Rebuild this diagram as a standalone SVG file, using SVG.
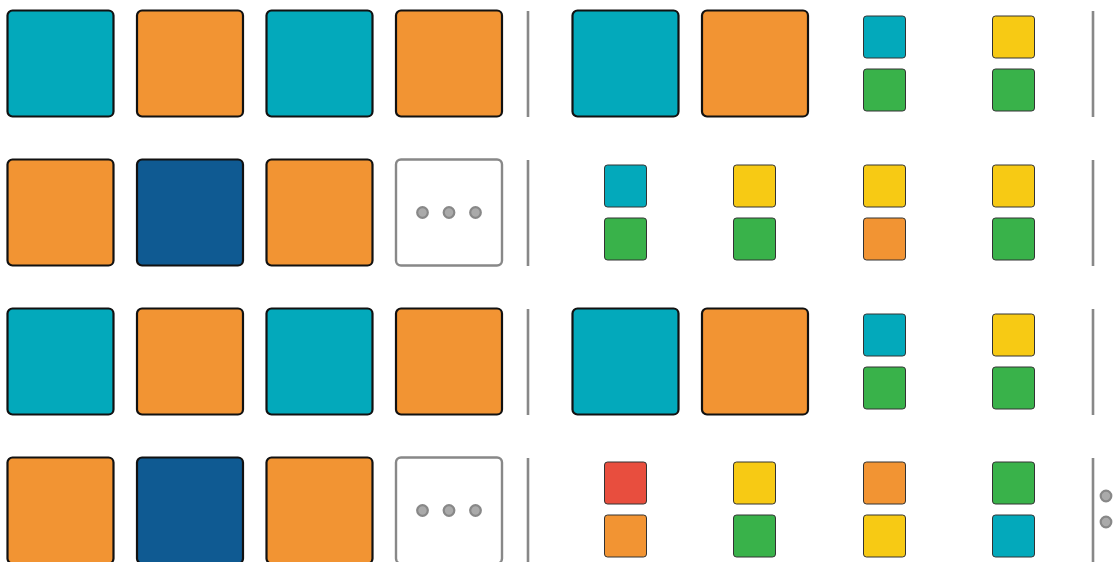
<svg xmlns="http://www.w3.org/2000/svg" width="1116" height="562" viewBox="0 0 1116 562">
<style>
.big{stroke:#111;stroke-width:2.2}
.sm{stroke:#333;stroke-width:1}
.c{fill:#03A9BB}.o{fill:#F29433}.b{fill:#0F5A92}.y{fill:#F7CA14}.g{fill:#39B24A}.r{fill:#E84E3E}
.more{fill:#fff;stroke:#888;stroke-width:2.4}
.dot{fill:#aaa;stroke:#888;stroke-width:2.2}
.div{stroke:#888;stroke-width:2.6}
</style>
<defs>
<rect id="B" width="106" height="106" rx="5"/>
<rect id="S" width="42" height="42" rx="3"/>
<g id="M"><rect class="more" width="106" height="106" rx="5"/><circle class="dot" cx="26.5" cy="53" r="5.3"/><circle class="dot" cx="53" cy="53" r="5.3"/><circle class="dot" cx="79.5" cy="53" r="5.3"/></g>
</defs>
<rect width="1116" height="562" fill="#fff"/>
<g id="row0">
<use href="#B" class="big c" x="7.5" y="10.5"/><use href="#B" class="big o" x="137" y="10.5"/><use href="#B" class="big c" x="266.5" y="10.5"/><use href="#B" class="big o" x="396" y="10.5"/>
<use href="#B" class="big c" x="572.5" y="10.5"/><use href="#B" class="big o" x="702" y="10.5"/>
<use href="#S" class="sm c" x="863.5" y="16"/><use href="#S" class="sm g" x="863.5" y="69"/>
<use href="#S" class="sm y" x="992.5" y="16"/><use href="#S" class="sm g" x="992.5" y="69"/>
</g>
<g id="row1">
<use href="#B" class="big o" x="7.5" y="159.5"/><use href="#B" class="big b" x="137" y="159.5"/><use href="#B" class="big o" x="266.5" y="159.5"/><use href="#M" x="396" y="159.5"/>
<use href="#S" class="sm c" x="604.5" y="165"/><use href="#S" class="sm g" x="604.5" y="218"/>
<use href="#S" class="sm y" x="733.5" y="165"/><use href="#S" class="sm g" x="733.5" y="218"/>
<use href="#S" class="sm y" x="863.5" y="165"/><use href="#S" class="sm o" x="863.5" y="218"/>
<use href="#S" class="sm y" x="992.5" y="165"/><use href="#S" class="sm g" x="992.5" y="218"/>
</g>
<g id="row2">
<use href="#B" class="big c" x="7.5" y="308.5"/><use href="#B" class="big o" x="137" y="308.5"/><use href="#B" class="big c" x="266.5" y="308.5"/><use href="#B" class="big o" x="396" y="308.5"/>
<use href="#B" class="big c" x="572.5" y="308.5"/><use href="#B" class="big o" x="702" y="308.5"/>
<use href="#S" class="sm c" x="863.5" y="314"/><use href="#S" class="sm g" x="863.5" y="367"/>
<use href="#S" class="sm y" x="992.5" y="314"/><use href="#S" class="sm g" x="992.5" y="367"/>
</g>
<g id="row3">
<use href="#B" class="big o" x="7.5" y="457.5"/><use href="#B" class="big b" x="137" y="457.5"/><use href="#B" class="big o" x="266.5" y="457.5"/><use href="#M" x="396" y="457.5"/>
<use href="#S" class="sm r" x="604.5" y="462"/><use href="#S" class="sm o" x="604.5" y="515"/>
<use href="#S" class="sm y" x="733.5" y="462"/><use href="#S" class="sm g" x="733.5" y="515"/>
<use href="#S" class="sm o" x="863.5" y="462"/><use href="#S" class="sm y" x="863.5" y="515"/>
<use href="#S" class="sm g" x="992.5" y="462"/><use href="#S" class="sm c" x="992.5" y="515"/>
<circle class="dot" cx="1106" cy="496" r="5.3"/><circle class="dot" cx="1106" cy="522" r="5.3"/>
</g>
<g id="dividers">
<line class="div" x1="528" y1="11" x2="528" y2="117"/><line class="div" x1="1093" y1="11" x2="1093" y2="117"/>
<line class="div" x1="528" y1="160" x2="528" y2="266"/><line class="div" x1="1093" y1="160" x2="1093" y2="266"/>
<line class="div" x1="528" y1="309" x2="528" y2="415"/><line class="div" x1="1093" y1="309" x2="1093" y2="415"/>
<line class="div" x1="528" y1="458" x2="528" y2="564"/><line class="div" x1="1093" y1="458" x2="1093" y2="564"/>
</g>
</svg>
